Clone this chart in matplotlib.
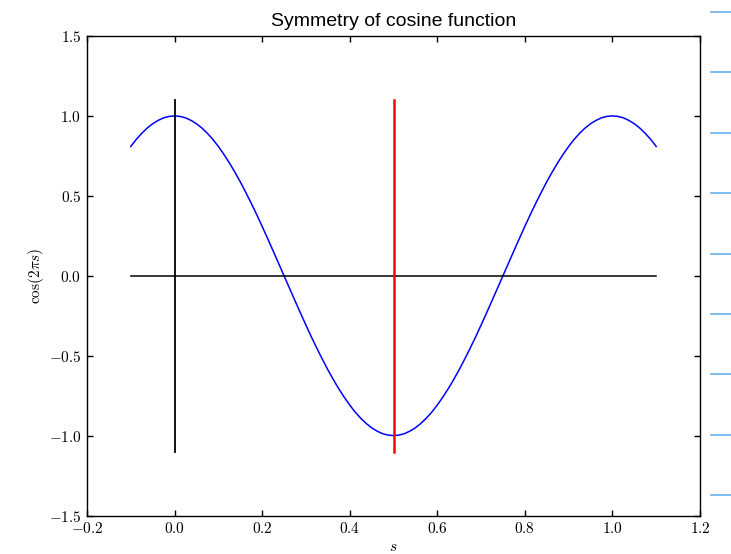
import matplotlib
matplotlib.use("Agg")
import matplotlib.pyplot as plt
import numpy as np
from matplotlib.ticker import FuncFormatter, MultipleLocator
from matplotlib.lines import Line2D

s_vals = np.linspace(-0.1, 1.1, 97)
cos_vals = [0.809, 0.853, 0.891, 0.924, 0.951, 0.972, 0.988, 0.997, 1.000,
            0.997, 0.988, 0.972, 0.951, 0.924, 0.891, 0.853, 0.809, 0.760, 0.707,
            0.649, 0.588, 0.522, 0.454, 0.383, 0.309, 0.233, 0.156, 0.078, 0.000,
            -0.078, -0.156, -0.233, -0.309, -0.383, -0.454, -0.522, -0.588, -0.649, -0.707,
            -0.760, -0.809, -0.853, -0.891, -0.924, -0.951, -0.972, -0.988, -0.997, -1.000,
            -0.997, -0.988, -0.972, -0.951, -0.924, -0.891, -0.853, -0.809, -0.760, -0.707,
            -0.649, -0.588, -0.522, -0.454, -0.383, -0.309, -0.233, -0.156, -0.078, 0.000,
            0.078, 0.156, 0.233, 0.309, 0.383, 0.454, 0.522, 0.588, 0.649, 0.707,
            0.760, 0.809, 0.853, 0.891, 0.924, 0.951, 0.972, 0.988, 0.997, 1.000,
            0.997, 0.988, 0.972, 0.951, 0.924, 0.891, 0.853, 0.809]
hline_x = [-0.1, 1.1]
hline_y = [0.0, 0.0]
black_vline_x = [0.0, 0.0]
red_vline_x = [0.5, 0.5]
vline_y = [-1.1, 1.1]

plt.rcParams['mathtext.fontset'] = 'cm'

fig = plt.figure(figsize=(7.31, 5.54), dpi=100, facecolor='white')
ax = fig.add_axes([87/731, 1-515.5/554, (700-87)/731, (515.5-36)/554])

ax.plot(s_vals, cos_vals, color='blue', lw=1.1)
ax.plot(hline_x, hline_y, color='black', lw=1.1)
ax.plot(black_vline_x, vline_y, color='black', lw=1.3)
ax.plot(red_vline_x, vline_y, color='red', lw=1.8)

ax.set_xlim(-0.2, 1.2)
ax.set_ylim(-1.5, 1.5)
ax.xaxis.set_major_locator(MultipleLocator(0.2))
ax.yaxis.set_major_locator(MultipleLocator(0.5))
fmt = FuncFormatter(lambda v, p: '$%.1f$' % v)
ax.xaxis.set_major_formatter(fmt)
ax.yaxis.set_major_formatter(fmt)
ax.tick_params(direction='in', length=4, width=1, top=True, right=True, labelsize=11, pad=4)
for sp in ax.spines.values():
    sp.set_linewidth(1.0)

ax.set_title('Symmetry of cosine function', family='Liberation Sans', fontsize=14, pad=7)
ax.set_xlabel('$s$', fontsize=11, labelpad=2)
ax.set_ylabel(r'$\cos(2\pi s)$', fontsize=11, labelpad=2)

# decorative light-blue dashes at right edge of the image
for yp in [12, 72, 133, 193, 254, 314, 374, 435, 495]:
    fig.add_artist(Line2D([711/731, 1.0], [1-yp/554, 1-yp/554], color='#6ab0f2', lw=1.2,
                          transform=fig.transFigure))

fig.savefig('out.png', dpi=100, facecolor='white')
